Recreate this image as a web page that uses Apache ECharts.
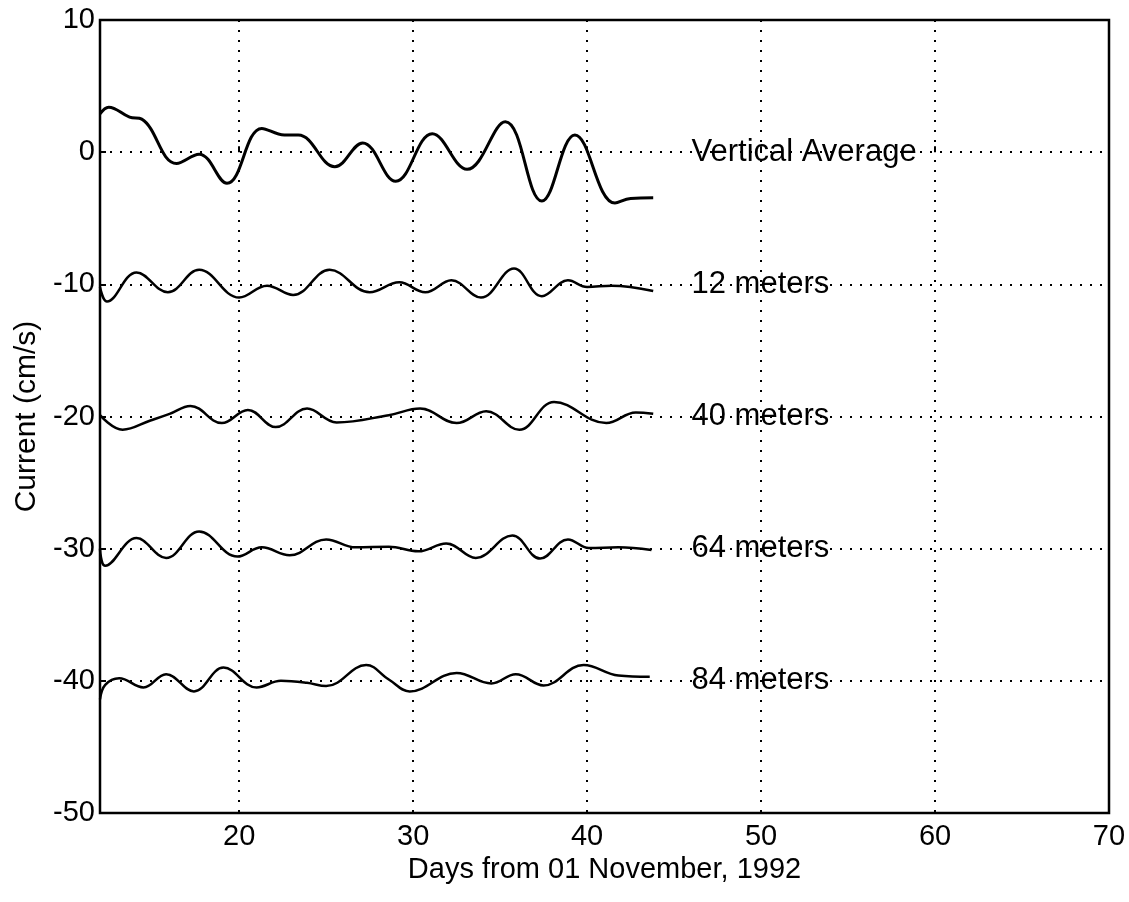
<!DOCTYPE html>
<html>
<head>
<meta charset="utf-8">
<script src="https://cdn.jsdelivr.net/npm/echarts@6/dist/echarts.min.js"></script>
<style>html,body{margin:0;padding:0;background:#fff;}#c{width:1129px;height:902px;}</style>
</head>
<body>
<div id="c"></div>
<script>
// Days (x) and current (y, cm/s, already offset)
const vertAvg = [[12,2.9],[12.5,3.4],[13.7,2.65],[14.4,2.5],[16.4,-0.85],[17.7,-0.15],[19.3,-2.35],[21.3,1.8],[22.6,1.3],[23.4,1.3],[25.5,-1.1],[27.1,0.7],[29.0,-2.2],[31.1,1.4],[33.1,-1.3],[35.3,2.3],[37.4,-3.7],[39.3,1.3],[41.6,-3.85],[42.5,-3.5],[43.8,-3.45]];
const m12 = [[12,-10.2],[12.4,-11.3],[14.1,-9.1],[15.9,-10.6],[17.7,-8.9],[20.0,-11.0],[21.6,-10.1],[23.1,-10.8],[25.2,-8.9],[27.5,-10.6],[29.2,-9.85],[30.7,-10.6],[32.2,-9.7],[33.9,-11.0],[35.8,-8.8],[37.4,-10.9],[38.9,-9.7],[40.0,-10.2],[41.4,-10.1],[43.8,-10.5]];
const m40 = [[12,-19.9],[13.3,-21.0],[14.9,-20.3],[16.0,-19.8],[17.2,-19.2],[19.0,-20.5],[20.5,-19.5],[22.1,-20.8],[23.9,-19.4],[25.6,-20.45],[28.6,-19.9],[30.4,-19.4],[32.5,-20.5],[34.2,-19.6],[36.1,-21.0],[38.1,-18.9],[41.1,-20.5],[42.8,-19.7],[43.8,-19.8]];
const m64 = [[12,-30.0],[12.3,-31.3],[14.1,-29.2],[15.8,-30.7],[17.7,-28.7],[19.9,-30.6],[21.3,-29.9],[22.9,-30.5],[25.0,-29.3],[26.7,-29.9],[28.6,-29.85],[30.3,-30.2],[31.9,-29.6],[33.6,-30.7],[35.7,-29.0],[37.3,-30.75],[38.9,-29.3],[40.1,-29.95],[41.8,-29.9],[43.7,-30.1]];
const m84 = [[12,-41.4],[12.3,-40.3],[13.1,-39.8],[14.5,-40.5],[15.8,-39.5],[17.4,-40.8],[19.1,-39.0],[21.0,-40.5],[22.4,-40.0],[23.9,-40.15],[25.0,-40.4],[27.3,-38.8],[28.6,-39.9],[29.8,-40.8],[32.5,-39.4],[34.5,-40.2],[35.9,-39.5],[37.5,-40.35],[39.8,-38.8],[41.8,-39.6],[43.6,-39.7]];
const labelX = 46;
const curveNames = ['Vertical Average','12 meters','40 meters','64 meters','84 meters'];
const curveOffsets = [0,-10,-20,-30,-40];
const xTicks = [20,30,40,50,60,70];

const chart = echarts.init(document.getElementById('c'));
const font = 'Liberation Sans, Arial, Helvetica, sans-serif';
const lineSeries = [vertAvg, m12, m40, m64, m84].map((d, i) => ({
  type: 'line', data: d, smooth: 0.4, symbol: 'none', silent: true,
  lineStyle: { color: '#000', width: i === 0 ? 3 : 2.5 }
}));
chart.setOption({
  animation: false,
  backgroundColor: '#fff',
  grid: { left: 100, right: 20, top: 20, bottom: 89, containLabel: false, outerBoundsMode: 'none',
    show: true, borderColor: '#000', borderWidth: 2.5, backgroundColor: 'transparent' },
  xAxis: {
    type: 'value', min: 12, max: 70,
    name: 'Days from 01 November, 1992', nameLocation: 'middle', nameGap: 42,
    nameTextStyle: { fontFamily: font, fontSize: 29, color: '#000' },
    axisLine: { show: false },
    axisTick: { show: true, inside: true, length: 6, lineStyle: { color: '#000', width: 2 }, customValues: xTicks },
    axisLabel: { fontFamily: font, fontSize: 29, color: '#000', margin: 9, customValues: xTicks },
    splitLine: { show: true, lineStyle: { color: '#000', type: [2, 8], width: 2 } },
    interval: 10
  },
  yAxis: {
    type: 'value', min: -50, max: 10, interval: 10,
    name: 'Current (cm/s)', nameLocation: 'middle', nameGap: 58,
    nameTextStyle: { fontFamily: font, fontSize: 30, color: '#000' },
    axisLine: { show: false },
    axisTick: { show: true, inside: true, length: 6, lineStyle: { color: '#000', width: 2 } },
    axisLabel: { fontFamily: font, fontSize: 29, color: '#000', margin: 5 },
    splitLine: { show: true, lineStyle: { color: '#000', type: [2, 8], width: 2 } }
  },
  series: lineSeries.concat([{
    type: 'scatter', symbolSize: 0, silent: true, z: 5,
    itemStyle: { opacity: 1 },
    data: curveNames.map((n, i) => ({ value: [labelX, curveOffsets[i]], name: n })),
    label: { show: true, position: 'right', distance: 0, formatter: p => p.name, opacity: 1,
      fontFamily: font, fontSize: 31, color: '#000' }
  }])
});
</script>
</body>
</html>
